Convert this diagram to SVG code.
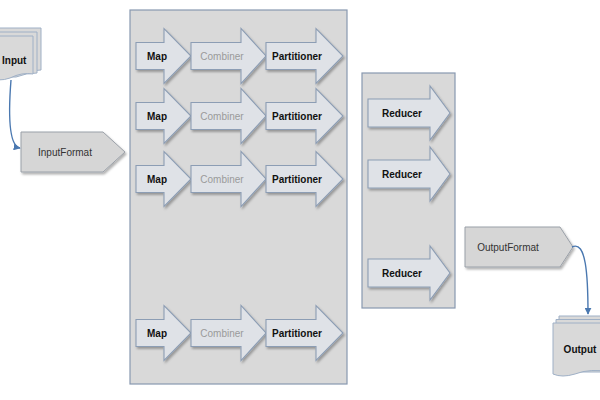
<svg xmlns="http://www.w3.org/2000/svg" width="600" height="400" viewBox="0 0 600 400">
<defs>
<filter id="sh" x="-20%" y="-20%" width="140%" height="140%">
<feDropShadow dx="1.5" dy="2" stdDeviation="1.2" flood-color="#000" flood-opacity="0.3"/>
</filter>
<marker id="ah" viewBox="0 0 10 10" refX="9" refY="5" markerWidth="5" markerHeight="5" orient="auto">
<path d="M0,0 L10,5 L0,10 z" fill="#4a78b0"/>
</marker>
<style>
.panel{fill:#d9d9d9;stroke:#8898b0;stroke-width:1.2}
.arr{fill:#dfe2e7;stroke:#8c9db4;stroke-width:1.1;filter:url(#sh)}
.fmt{fill:#d6d6d6;stroke:#9aa0a8;stroke-width:1;filter:url(#sh)}
.doc{fill:#d9d9d9;stroke:#9fb0c6;stroke-width:1}
.t{font-family:"Liberation Sans",Arial,sans-serif;font-size:10px;text-anchor:middle;dominant-baseline:central}
.b{font-weight:bold;fill:#111}
.g{fill:#9a9a9a}
.n{fill:#333}
.con{fill:none;stroke:#4a78b0;stroke-width:1.4}
</style>
</defs>
<rect width="600" height="400" fill="#fff"/>

<g id="map-panel"><rect class="panel" x="130" y="10" width="217" height="374"/></g>
<g id="reduce-panel"><rect class="panel" x="362" y="73" width="93" height="235"/></g>

<g id="input">
<path class="doc" d="M-14,28 H41 V70 Q30,70 20,74 H-14 z"/>
<path class="doc" d="M-17,32 H37 V73 Q26,73 16,77 H-17 z"/>
<path class="doc" d="M-20,36 H33 V74 Q22,72 10,78 Q0,82 -20,78 z" fill="#d6d6d6"/>
<text class="t b" x="2" y="60" style="text-anchor:start">Input</text>
</g>

<g id="inputformat">
<path class="fmt" d="M21,132 H103 L125,152 L103,172 H21 z"/>
<text class="t n" x="65" y="152">InputFormat</text>
</g>

<g id="row1">
<path class="arr" d="M136,42.5 H164 V28.5 L191,56 L164,83.5 V69.5 H136 z"/>
<path class="arr" d="M191,42.5 H241 V28.5 L266,56 L241,83.5 V69.5 H191 z"/>
<path class="arr" d="M266,42.5 H316 V28.5 L343,56 L316,83.5 V69.5 H266 z"/>
<text class="t b" x="157" y="56">Map</text>
<text class="t g" x="222" y="56">Combiner</text>
<text class="t b" x="297" y="56">Partitioner</text>
</g>
<g id="row2">
<path class="arr" d="M136,102.5 H164 V88.5 L191,116 L164,143.5 V129.5 H136 z"/>
<path class="arr" d="M191,102.5 H241 V88.5 L266,116 L241,143.5 V129.5 H191 z"/>
<path class="arr" d="M266,102.5 H316 V88.5 L343,116 L316,143.5 V129.5 H266 z"/>
<text class="t b" x="157" y="116">Map</text>
<text class="t g" x="222" y="116">Combiner</text>
<text class="t b" x="297" y="116">Partitioner</text>
</g>
<g id="row3">
<path class="arr" d="M136,165.5 H164 V151.5 L191,179 L164,206.5 V192.5 H136 z"/>
<path class="arr" d="M191,165.5 H241 V151.5 L266,179 L241,206.5 V192.5 H191 z"/>
<path class="arr" d="M266,165.5 H316 V151.5 L343,179 L316,206.5 V192.5 H266 z"/>
<text class="t b" x="157" y="179">Map</text>
<text class="t g" x="222" y="179">Combiner</text>
<text class="t b" x="297" y="179">Partitioner</text>
</g>
<g id="row4">
<path class="arr" d="M136,319.5 H164 V305.5 L191,333 L164,360.5 V346.5 H136 z"/>
<path class="arr" d="M191,319.5 H241 V305.5 L266,333 L241,360.5 V346.5 H191 z"/>
<path class="arr" d="M266,319.5 H316 V305.5 L343,333 L316,360.5 V346.5 H266 z"/>
<text class="t b" x="157" y="333">Map</text>
<text class="t g" x="222" y="333">Combiner</text>
<text class="t b" x="297" y="333">Partitioner</text>
</g>

<g id="reducer1">
<path class="arr" d="M368,99 H430 V86 L450,113 L430,140 V127 H368 z"/>
<text class="t b" x="402" y="113">Reducer</text>
</g>
<g id="reducer2">
<path class="arr" d="M368,160 H430 V147 L450,174 L430,201 V188 H368 z"/>
<text class="t b" x="402" y="174">Reducer</text>
</g>
<g id="reducer3">
<path class="arr" d="M368,259 H430 V246 L450,273 L430,300 V287 H368 z"/>
<text class="t b" x="402" y="273">Reducer</text>
</g>

<g id="outputformat">
<path class="fmt" d="M465,227 H560 L573,247 L560,267 H465 z"/>
<text class="t n" x="508" y="247">OutputFormat</text>
</g>

<g id="output">
<path class="doc" d="M559,316 H612 V370 H559 z"/>
<path class="doc" d="M556,319.5 H612 V372 H556 z"/>
<path class="doc" d="M553,323 H612 V372 Q590,368 575,374 Q562,378 553,374 z" fill="#d6d6d6"/>
<text class="t b" x="580" y="349">Output</text>
</g>

<g id="connectors">
<path class="con" d="M11,80 C8,118 9,146 20,148" marker-end="url(#ah)"/>
<path class="con" d="M572,247 C586,240 588,275 588,314" marker-end="url(#ah)"/>
</g>
</svg>
